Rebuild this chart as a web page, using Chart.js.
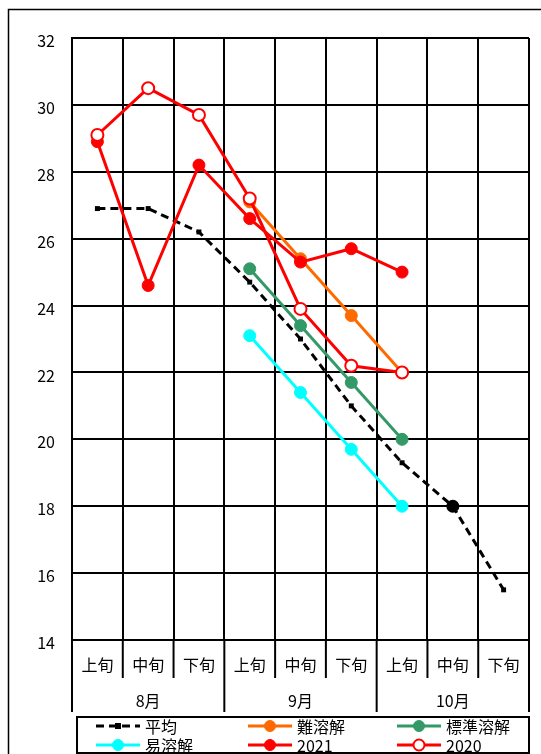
<!DOCTYPE html>
<html>
<head>
<meta charset="utf-8">
<script src="https://cdn.jsdelivr.net/npm/chart.js@4.4.0/dist/chart.umd.min.js"></script>
<style>
  html, body { margin: 0; padding: 0; background: #fff; }
</style>
</head>
<body>
<canvas id="chart" width="541" height="754"></canvas>
<script>
// category labels: ten-day periods within each month
const periods = ['上旬', '中旬', '下旬', '上旬', '中旬', '下旬', '上旬', '中旬', '下旬'];
const months = ['8月', '9月', '10月'];

// series values (null = no data for that period)
const average         = [26.9, 26.9, 26.2, 24.7, 23.0, 21.0, 19.3, 18.0, 15.5];
const hardSoluble     = [null, null, null, 27.1, 25.4, 23.7, 22.0, null, null];
const standardSoluble = [null, null, null, 25.1, 23.4, 21.7, 20.0, null, null];
const easySoluble     = [null, null, null, 23.1, 21.4, 19.7, 18.0, null, null];
const year2021        = [28.9, 24.6, 28.2, 26.6, 25.3, 25.7, 25.0, null, null];
const year2020        = [29.1, 30.5, 29.7, 27.2, 23.9, 22.2, 22.0, null, null];

const yMin = 14, yMax = 32, yStep = 2;

const FONT = '"Noto Sans CJK JP", "Noto Sans", sans-serif';

// average uses small squares, except one big round marker
const avgStyles = average.map((v, i) => i === 7 ? 'circle' : 'rect');
const avgRadius = average.map((v, i) => i === 7 ? 6.5 : 3.5);

function solid(label, data, color, order) {
    return {
        label, data, order,
        borderColor: color,
        backgroundColor: color,
        borderWidth: 3,
        pointRadius: 6,
        pointBorderWidth: 1,
        pointBackgroundColor: color,
        pointBorderColor: color,
        spanGaps: false
    };
}

const datasets = [
    {
        label: '平均',
        data: average,
        order: 6,
        borderColor: '#000',
        backgroundColor: '#000',
        borderWidth: 3,
        borderDash: [8, 5],
        pointStyle: avgStyles,
        pointRadius: avgRadius,
        pointBorderWidth: 0,
        pointBackgroundColor: '#000'
    },
    solid('難溶解', hardSoluble, '#ff6a00', 5),
    solid('標準溶解', standardSoluble, '#339966', 4),
    solid('易溶解', easySoluble, '#00ffff', 3),
    solid('2021', year2021, '#ff0000', 2),
    {
        label: '2020',
        data: year2020,
        order: 1,
        borderColor: '#ff0000',
        backgroundColor: '#fff',
        borderWidth: 3,
        pointRadius: 6,
        pointBorderWidth: 2,
        pointBackgroundColor: '#fff',
        pointBorderColor: '#ff0000'
    }
];

// draws the outer frame, the two-level x axis labels and the boxed legend
const decorations = {
    id: 'decorations',
    afterDraw(chart) {
        const { ctx, chartArea: area, scales: { x } } = chart;
        ctx.save();

        ctx.strokeStyle = '#000';
        ctx.lineWidth = 1.5;
        ctx.strokeRect(8.5, 9.5, 700, 900);

        const half = (x.getPixelForValue(1) - x.getPixelForValue(0)) / 2;
        ctx.lineWidth = 2;
        for (let i = 0; i <= periods.length; i++) {
            const px = i < periods.length ? x.getPixelForValue(i) - half : x.getPixelForValue(i - 1) + half;
            const monthEdge = i % 3 === 0;
            ctx.beginPath();
            ctx.moveTo(px, area.bottom);
            ctx.lineTo(px, area.bottom + (monthEdge ? 72 : 38));
            ctx.stroke();
        }

        ctx.fillStyle = '#000';
        ctx.font = '16px ' + FONT;
        ctx.textAlign = 'center';
        ctx.textBaseline = 'middle';
        periods.forEach((p, i) => ctx.fillText(p, x.getPixelForValue(i), area.bottom + 25));
        months.forEach((m, j) => ctx.fillText(m, x.getPixelForValue(j * 3 + 1), area.bottom + 61));

        // legend box
        ctx.lineWidth = 2;
        ctx.strokeRect(77, 717, 452, 36);
        const cols = [96, 248, 397];
        const rows = [726, 745];
        ctx.textAlign = 'left';
        chart.data.datasets.forEach((ds, k) => {
            const lx = cols[k % 3];
            const ly = rows[Math.floor(k / 3)];
            ctx.save();
            ctx.strokeStyle = ds.borderColor;
            ctx.lineWidth = 3;
            ctx.setLineDash(ds.borderDash || []);
            ctx.beginPath();
            ctx.moveTo(lx, ly);
            ctx.lineTo(lx + 44, ly);
            ctx.stroke();
            ctx.setLineDash([]);
            const style = Array.isArray(ds.pointStyle) ? ds.pointStyle[0] : 'circle';
            if (style === 'rect') {
                ctx.fillStyle = ds.pointBackgroundColor;
                ctx.fillRect(lx + 22 - 3, ly - 3, 6, 6);
            } else {
                ctx.beginPath();
                ctx.arc(lx + 22, ly, 5.5, 0, Math.PI * 2);
                ctx.fillStyle = ds.pointBackgroundColor;
                ctx.fill();
                ctx.lineWidth = ds.pointBorderWidth || 1;
                ctx.strokeStyle = ds.pointBorderColor;
                ctx.stroke();
            }
            ctx.restore();
            ctx.fillStyle = '#000';
            ctx.fillText(ds.label, lx + 49, ly + 1);
        });

        ctx.restore();
    }
};

new Chart(document.getElementById('chart'), {
    type: 'line',
    data: { labels: periods, datasets },
    options: {
        responsive: false,
        animation: false,
        layout: { padding: { left: 8, top: 38, right: 12, bottom: 114 } },
        plugins: {
            legend: { display: false },
            tooltip: { enabled: false }
        },
        scales: {
            x: {
                offset: true,
                grid: { offset: true, color: '#000', lineWidth: 2, drawTicks: false },
                border: { color: '#000', width: 2 },
                ticks: { display: false },
                afterFit(scale) { scale.height = 0; }
            },
            y: {
                min: yMin,
                max: yMax,
                ticks: {
                    stepSize: yStep,
                    padding: 17,
                    labelOffset: 3,
                    color: '#000',
                    font: { size: 16, family: FONT }
                },
                grid: { color: '#000', lineWidth: 2, drawTicks: false },
                border: { color: '#000', width: 2 },
                afterFit(scale) { scale.width = 64; }
            }
        }
    },
    plugins: [decorations]
});
</script>
</body>
</html>
